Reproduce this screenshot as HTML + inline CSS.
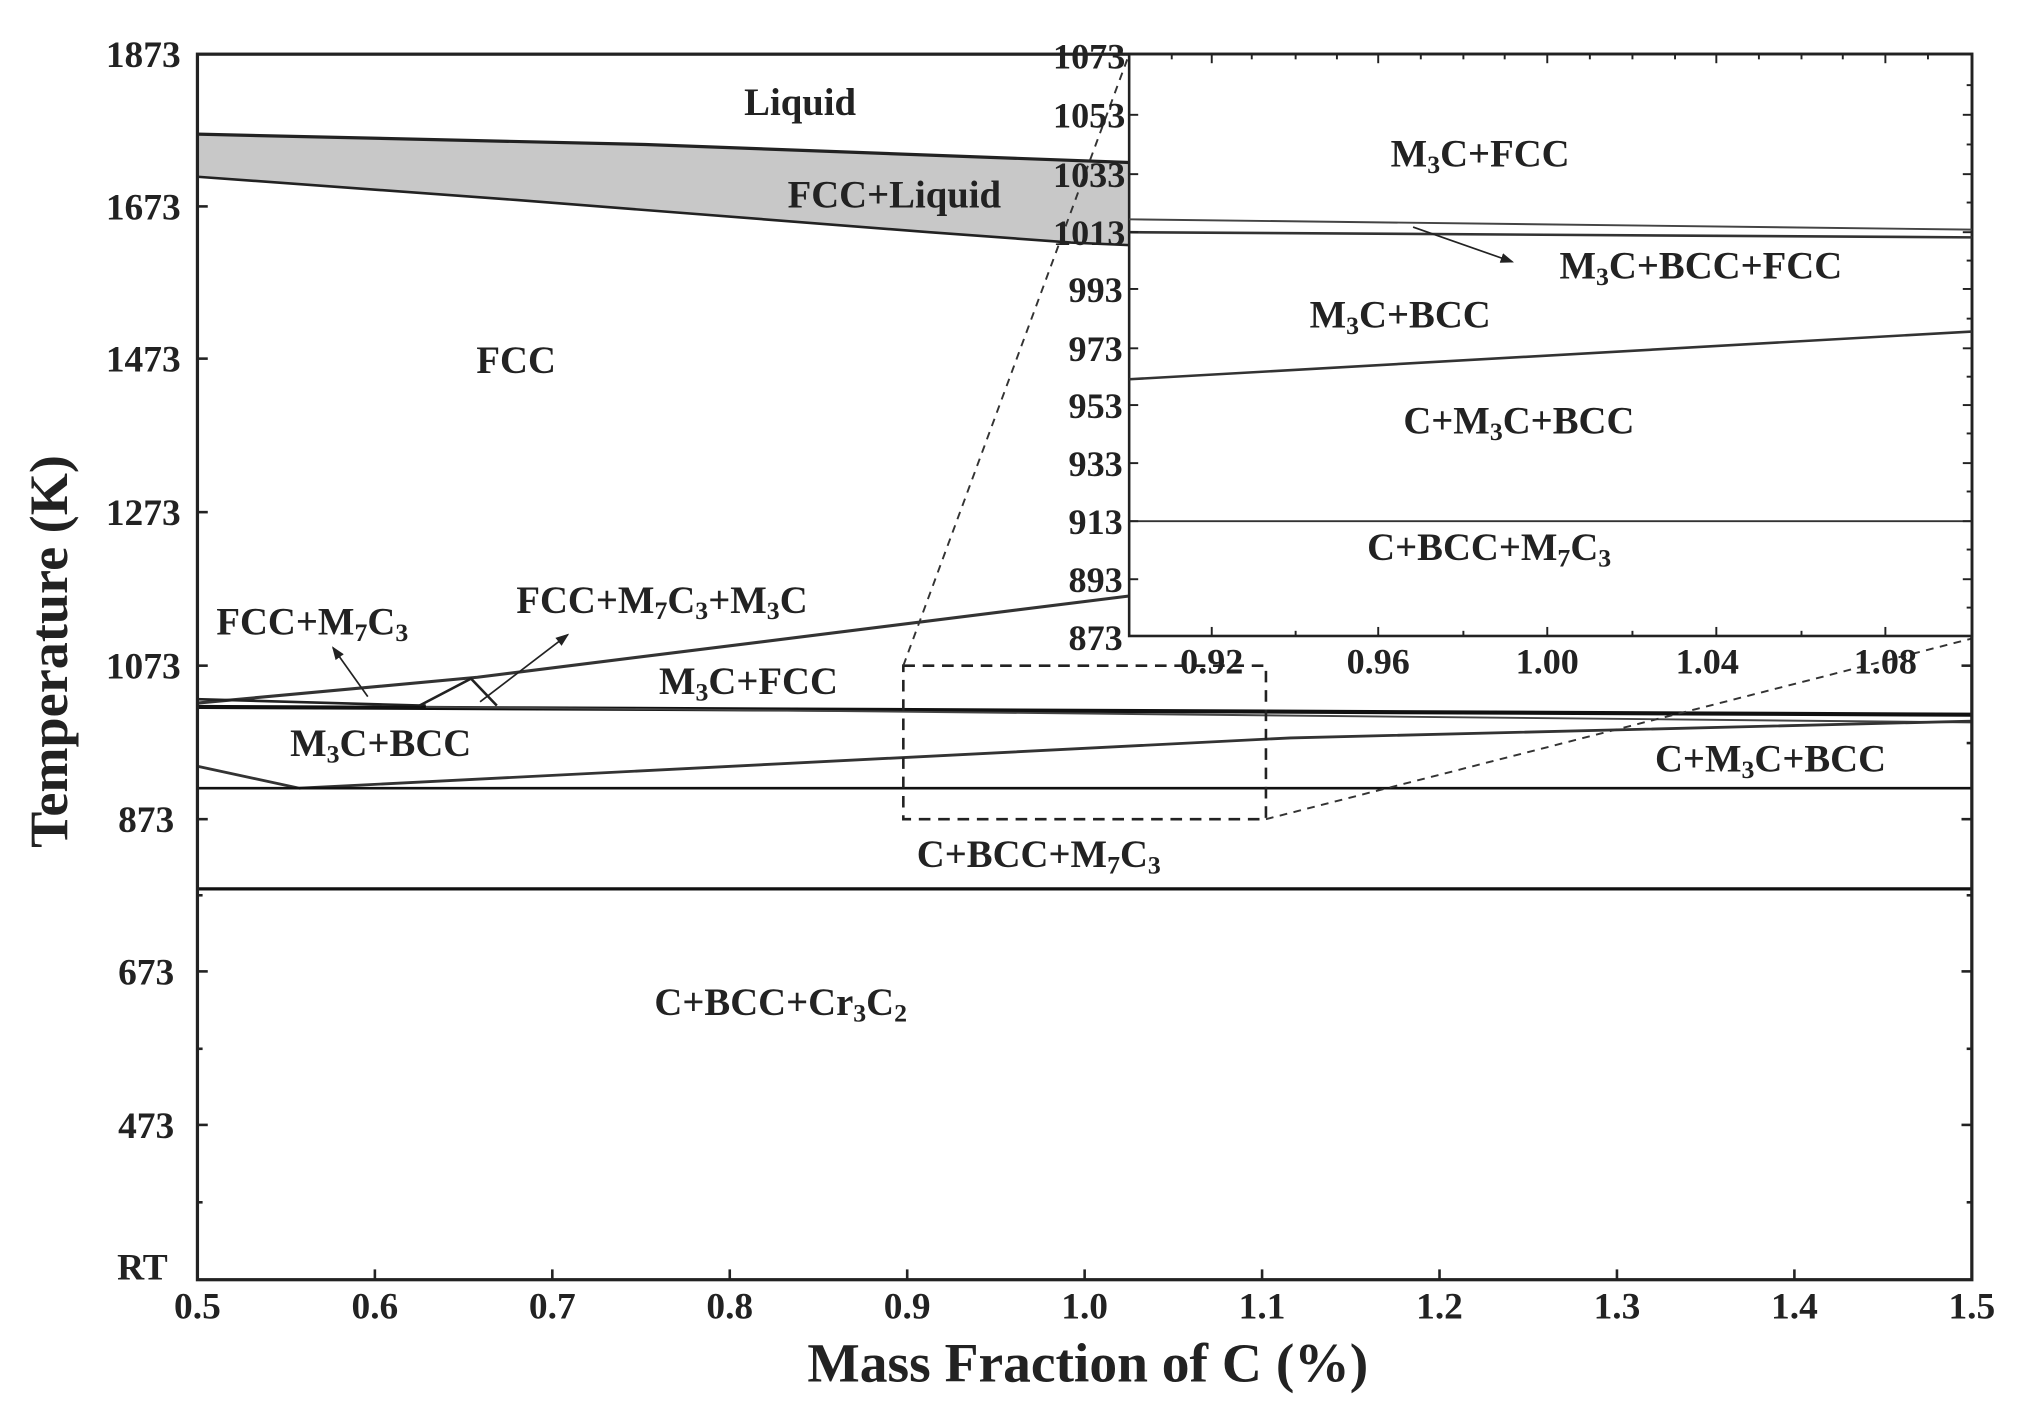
<!DOCTYPE html>
<html><head><meta charset="utf-8"><style>
html,body{margin:0;padding:0;background:#fff;}
svg{display:block;}
text{font-family:"Liberation Serif",serif;font-weight:bold;fill:#222;}
</style></head><body>
<svg width="2017" height="1410" viewBox="0 0 1563 1093" preserveAspectRatio="none" xmlns="http://www.w3.org/2000/svg">
<defs><marker id="ar" markerWidth="8" markerHeight="8" refX="7" refY="4" orient="auto"><path d="M0,1 L8,4 L0,7z" fill="#222"/></marker></defs>
<polygon points="153,104 500,112 875,126 875,190 830,188 720,180 400,155 153,137" fill="#c8c8c8"/>
<polyline points="153,104 500,112 875,126" fill="none" stroke="#222" stroke-width="2.5"/>
<polyline points="153,137 400,155 720,180 830,188 875,190" fill="none" stroke="#222" stroke-width="2"/>
<polyline points="153,545 370,525 875,462" fill="none" stroke="#333" stroke-width="2.4"/>
<polyline points="153,542 330,547" fill="none" stroke="#222" stroke-width="2"/>
<line x1="153" y1="548" x2="1528" y2="554" stroke="#111" stroke-width="3.2"/>
<line x1="330" y1="548" x2="1528" y2="560" stroke="#444" stroke-width="1.5"/>
<polyline points="325,547 365,526 385,547" fill="none" stroke="#222" stroke-width="2"/>
<polyline points="153,594 232,611 1000,572 1528,559" fill="none" stroke="#333" stroke-width="2.2"/>
<line x1="153" y1="611" x2="1528" y2="611" stroke="#111" stroke-width="2"/>
<line x1="153" y1="689" x2="1528" y2="689" stroke="#111" stroke-width="2.5"/>
<line x1="285" y1="540" x2="258" y2="502" stroke="#222" stroke-width="1.3" marker-end="url(#ar)"/>
<line x1="372" y1="544" x2="440" y2="492" stroke="#222" stroke-width="1.3" marker-end="url(#ar)"/>
<rect x="700" y="516" width="281" height="119" fill="none" stroke="#222" stroke-width="2" stroke-dasharray="9,6"/>
<line x1="700" y1="516" x2="875" y2="42" stroke="#333" stroke-width="1.5" stroke-dasharray="6,5"/>
<line x1="981" y1="635" x2="1528" y2="495" stroke="#333" stroke-width="1.5" stroke-dasharray="6,5"/>
<rect x="153" y="42" width="1375" height="950" fill="none" stroke="#222" stroke-width="2.5"/>
<g stroke="#222" stroke-width="2">
<line x1="153" y1="160" x2="161" y2="160"/><line x1="153" y1="278" x2="161" y2="278"/><line x1="153" y1="397" x2="161" y2="397"/><line x1="153" y1="516" x2="161" y2="516"/><line x1="153" y1="635" x2="161" y2="635"/><line x1="153" y1="753" x2="161" y2="753"/><line x1="153" y1="872" x2="161" y2="872"/>
<line x1="1520" y1="160" x2="1528" y2="160"/><line x1="1520" y1="278" x2="1528" y2="278"/><line x1="1520" y1="397" x2="1528" y2="397"/><line x1="1520" y1="516" x2="1528" y2="516"/><line x1="1520" y1="635" x2="1528" y2="635"/><line x1="1520" y1="753" x2="1528" y2="753"/><line x1="1520" y1="872" x2="1528" y2="872"/>
<line x1="1524" y1="101" x2="1528" y2="101"/><line x1="1524" y1="219" x2="1528" y2="219"/><line x1="1524" y1="338" x2="1528" y2="338"/><line x1="1524" y1="457" x2="1528" y2="457"/><line x1="1524" y1="576" x2="1528" y2="576"/><line x1="1524" y1="694" x2="1528" y2="694"/><line x1="1524" y1="813" x2="1528" y2="813"/><line x1="1524" y1="932" x2="1528" y2="932"/>
<line x1="153" y1="813" x2="157" y2="813"/><line x1="153" y1="932" x2="157" y2="932"/><line x1="153" y1="694" x2="157" y2="694"/>
<line x1="290.5" y1="992" x2="290.5" y2="984"/><line x1="428" y1="992" x2="428" y2="984"/><line x1="565.5" y1="992" x2="565.5" y2="984"/><line x1="703" y1="992" x2="703" y2="984"/><line x1="840.5" y1="992" x2="840.5" y2="984"/><line x1="978" y1="992" x2="978" y2="984"/><line x1="1115.5" y1="992" x2="1115.5" y2="984"/><line x1="1253" y1="992" x2="1253" y2="984"/><line x1="1390.5" y1="992" x2="1390.5" y2="984"/>
</g>
<rect x="875" y="42" width="653" height="451" fill="#fff" stroke="#222" stroke-width="2"/>
<line x1="875" y1="170" x2="1528" y2="178" stroke="#444" stroke-width="1.5"/>
<line x1="875" y1="180" x2="1528" y2="184" stroke="#333" stroke-width="2"/>
<line x1="875" y1="294" x2="1528" y2="257" stroke="#333" stroke-width="2"/>
<line x1="875" y1="404" x2="1528" y2="404" stroke="#333" stroke-width="1.5"/>
<line x1="1095" y1="176" x2="1172" y2="203" stroke="#222" stroke-width="1.3" marker-end="url(#ar)"/>
<g stroke="#222" stroke-width="1.5">
<line x1="875" y1="89" x2="882" y2="89"/><line x1="875" y1="135" x2="882" y2="135"/><line x1="875" y1="180" x2="882" y2="180"/><line x1="875" y1="224" x2="882" y2="224"/><line x1="875" y1="270" x2="882" y2="270"/><line x1="875" y1="314" x2="882" y2="314"/><line x1="875" y1="359" x2="882" y2="359"/><line x1="875" y1="404" x2="882" y2="404"/><line x1="875" y1="449" x2="882" y2="449"/>
<line x1="1521" y1="89" x2="1528" y2="89"/><line x1="1521" y1="135" x2="1528" y2="135"/><line x1="1521" y1="180" x2="1528" y2="180"/><line x1="1521" y1="224" x2="1528" y2="224"/><line x1="1521" y1="270" x2="1528" y2="270"/><line x1="1521" y1="314" x2="1528" y2="314"/><line x1="1521" y1="359" x2="1528" y2="359"/><line x1="1521" y1="404" x2="1528" y2="404"/><line x1="1521" y1="449" x2="1528" y2="449"/>
<line x1="1524" y1="66" x2="1528" y2="66"/><line x1="1524" y1="112" x2="1528" y2="112"/><line x1="1524" y1="157" x2="1528" y2="157"/><line x1="1524" y1="202" x2="1528" y2="202"/><line x1="1524" y1="247" x2="1528" y2="247"/><line x1="1524" y1="292" x2="1528" y2="292"/><line x1="1524" y1="336" x2="1528" y2="336"/><line x1="1524" y1="381" x2="1528" y2="381"/><line x1="1524" y1="426" x2="1528" y2="426"/><line x1="1524" y1="471" x2="1528" y2="471"/>
<line x1="939" y1="493" x2="939" y2="486"/><line x1="1068" y1="493" x2="1068" y2="486"/><line x1="1199" y1="493" x2="1199" y2="486"/><line x1="1330" y1="493" x2="1330" y2="486"/><line x1="1461" y1="493" x2="1461" y2="486"/>
<line x1="939" y1="42" x2="939" y2="49"/><line x1="1068" y1="42" x2="1068" y2="49"/><line x1="1199" y1="42" x2="1199" y2="49"/><line x1="1330" y1="42" x2="1330" y2="49"/><line x1="1461" y1="42" x2="1461" y2="49"/>
<line x1="1004" y1="42" x2="1004" y2="46"/><line x1="1134" y1="42" x2="1134" y2="46"/><line x1="1265" y1="42" x2="1265" y2="46"/><line x1="1396" y1="42" x2="1396" y2="46"/><line x1="908" y1="42" x2="908" y2="46"/><line x1="970" y1="42" x2="970" y2="46"/><line x1="1036" y1="42" x2="1036" y2="46"/><line x1="1101" y1="42" x2="1101" y2="46"/><line x1="1166" y1="42" x2="1166" y2="46"/><line x1="1232" y1="42" x2="1232" y2="46"/><line x1="1298" y1="42" x2="1298" y2="46"/><line x1="1363" y1="42" x2="1363" y2="46"/><line x1="1428" y1="42" x2="1428" y2="46"/><line x1="1494" y1="42" x2="1494" y2="46"/>
<line x1="1004" y1="493" x2="1004" y2="489"/><line x1="1134" y1="493" x2="1134" y2="489"/><line x1="1265" y1="493" x2="1265" y2="489"/><line x1="1396" y1="493" x2="1396" y2="489"/>
</g>
<g font-size="29" text-anchor="end">
<text x="140" y="52">1873</text><text x="140" y="170">1673</text><text x="140" y="288">1473</text><text x="140" y="407">1273</text><text x="140" y="526">1073</text><text x="135" y="645">873</text><text x="135" y="763">673</text><text x="135" y="882">473</text><text x="130" y="992">RT</text>
</g>
<g font-size="29" text-anchor="middle">
<text x="153" y="1022">0.5</text><text x="290.5" y="1022">0.6</text><text x="428" y="1022">0.7</text><text x="565.5" y="1022">0.8</text><text x="703" y="1022">0.9</text><text x="840.5" y="1022">1.0</text><text x="978" y="1022">1.1</text><text x="1115.5" y="1022">1.2</text><text x="1253" y="1022">1.3</text><text x="1390.5" y="1022">1.4</text><text x="1528" y="1022">1.5</text>
</g>
<text x="843" y="1071" font-size="43" text-anchor="middle">Mass Fraction of C (%)</text>
<text transform="translate(52,505) rotate(-90)" font-size="42" text-anchor="middle">Temperature (K)</text>
<g font-size="28" text-anchor="end">
<text x="872" y="53">1073</text><text x="872" y="99">1053</text><text x="872" y="145">1033</text><text x="872" y="190">1013</text><text x="870" y="234">993</text><text x="870" y="280">973</text><text x="870" y="324">953</text><text x="870" y="369">933</text><text x="870" y="414">913</text><text x="870" y="459">893</text><text x="870" y="504">873</text>
</g>
<g font-size="28" text-anchor="middle">
<text x="939" y="522">0.92</text><text x="1068" y="522">0.96</text><text x="1199" y="522">1.00</text><text x="1323" y="522">1.04</text><text x="1461" y="522">1.08</text>
</g>
<g font-size="30" text-anchor="middle">
<text x="620" y="89">Liquid</text>
<text x="693" y="161">FCC+Liquid</text>
<text x="400" y="289">FCC</text>
<text x="242" y="492">FCC+M<tspan font-size="20" dy="5">7</tspan><tspan dy="-5">C</tspan><tspan font-size="20" dy="5">3</tspan></text>
<text x="513" y="475">FCC+M<tspan font-size="20" dy="5">7</tspan><tspan dy="-5">C</tspan><tspan font-size="20" dy="5">3</tspan><tspan dy="-5">+M</tspan><tspan font-size="20" dy="5">3</tspan><tspan dy="-5">C</tspan></text>
<text x="580" y="538">M<tspan font-size="20" dy="5">3</tspan><tspan dy="-5">C+FCC</tspan></text>
<text x="295" y="586">M<tspan font-size="20" dy="5">3</tspan><tspan dy="-5">C+BCC</tspan></text>
<text x="1372" y="598">C+M<tspan font-size="20" dy="5">3</tspan><tspan dy="-5">C+BCC</tspan></text>
<text x="805" y="672">C+BCC+M<tspan font-size="20" dy="5">7</tspan><tspan dy="-5">C</tspan><tspan font-size="20" dy="5">3</tspan></text>
<text x="605" y="787">C+BCC+Cr<tspan font-size="20" dy="5">3</tspan><tspan dy="-5">C</tspan><tspan font-size="20" dy="5">2</tspan></text>
<text x="1147" y="129">M<tspan font-size="20" dy="5">3</tspan><tspan dy="-5">C+FCC</tspan></text>
<text x="1318" y="216">M<tspan font-size="20" dy="5">3</tspan><tspan dy="-5">C+BCC+FCC</tspan></text>
<text x="1085" y="254">M<tspan font-size="20" dy="5">3</tspan><tspan dy="-5">C+BCC</tspan></text>
<text x="1177" y="336">C+M<tspan font-size="20" dy="5">3</tspan><tspan dy="-5">C+BCC</tspan></text>
<text x="1154" y="434">C+BCC+M<tspan font-size="20" dy="5">7</tspan><tspan dy="-5">C</tspan><tspan font-size="20" dy="5">3</tspan></text>
</g>
</svg>
</body></html>
